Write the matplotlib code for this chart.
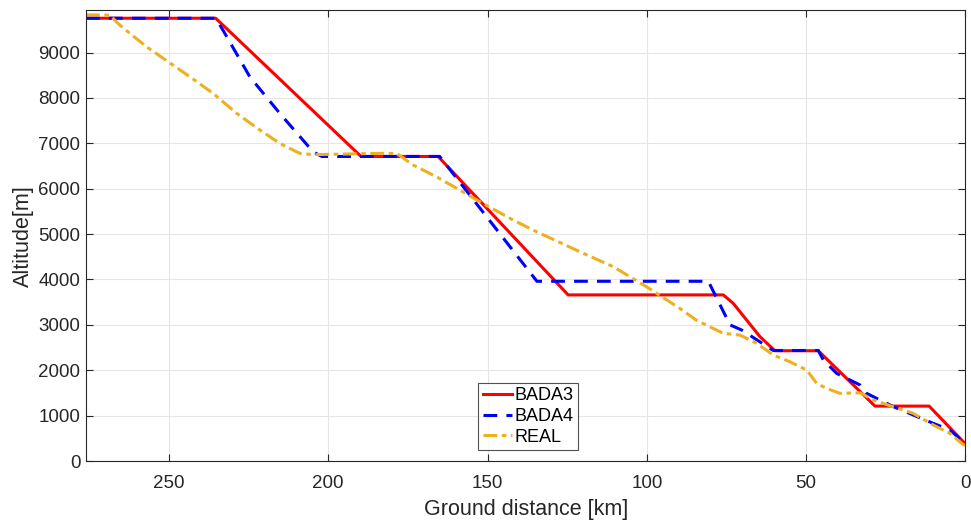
import matplotlib
matplotlib.use("Agg")
import matplotlib.pyplot as plt

plt.rcParams['font.family'] = ['Liberation Sans', 'DejaVu Sans']

# BADA3 profile
bada3_km = [276, 235.3, 189.7, 165.5, 124.7, 76.0, 72.9, 64.5, 59.8, 46.2, 28.4, 11.4, 0]
bada3_alt = [9755, 9755, 6710, 6710, 3660, 3660, 3475, 2740, 2430, 2430, 1210, 1210, 375]

# BADA4 profile
bada4_km = [276, 235.3, 233.0, 224.6, 215.2, 204.7, 202.0, 165.0, 134.5, 80.7, 73.9, 70.2,
            60.3, 46.2, 44.6, 40.4, 33.1, 31.0, 22.7, 16.4, 10.1, 4.9, 0]
bada4_alt = [9755, 9755, 9490, 8465, 7660, 6810, 6710, 6710, 3960, 3960, 3000, 2885,
             2435, 2435, 2225, 1930, 1675, 1490, 1200, 1015, 830, 685, 380]

# REAL trajectory
real_km = [276, 268.6, 265.4, 262.2, 257.0, 250.2, 243.4, 236.1, 228.7, 221.4, 215.2, 208.9,
           204.7, 183.8, 178.5, 173.3, 166.0, 158.7, 152.4, 141.9, 135.7, 121.0, 110.5,
           100.1, 89.6, 84.4, 76.0, 70.8, 65.5, 60.3, 55.1, 49.8, 46.7, 43.6, 39.4, 33.1,
           28.9, 22.7, 16.4, 10.1, 4.9, 0.7, 0]
real_alt = [9830, 9824, 9604, 9420, 9126, 8795, 8465, 8099, 7658, 7291, 6998, 6778,
            6750, 6778, 6778, 6520, 6262, 5969, 5711, 5308, 5088, 4610, 4280,
            3839, 3360, 3100, 2813, 2775, 2593, 2335, 2187, 2004, 1711, 1601, 1491, 1504,
            1344, 1196, 1050, 793, 610, 360, 350]

xticks = [250, 200, 150, 100, 50, 0]
yticks = list(range(0, 10000, 1000))

fig = plt.figure(figsize=(9.71, 5.23), dpi=100)
ax = fig.add_axes([0.0886, 0.1185, 0.9057, 0.8618])

ax.plot(bada3_km, bada3_alt, color='#FF0000', lw=2.2, label='BADA3')
ax.plot(bada4_km, bada4_alt, color='#0000FF', lw=2.2, linestyle=(0, (4.5, 3)), label='BADA4')
ax.plot(real_km, real_alt, color='#EDB120', lw=2.2, linestyle=(0, (4.5, 1.5, 1.5, 1.5)), label='REAL')

ax.set_xlim(276, 0)
ax.set_ylim(0, 9930)
ax.set_xticks(xticks)
ax.set_yticks(yticks)
ax.grid(True, color='#E6E6E6', lw=0.8)
ax.set_axisbelow(True)
ax.tick_params(direction='in', top=True, right=True, labelsize=13.5, colors='#262626',
               length=5, width=0.8)
ax.tick_params(axis='x', pad=10)
ax.tick_params(axis='y', pad=4)
for s in ax.spines.values():
    s.set_color('#262626')
    s.set_linewidth(0.8)

ax.set_xlabel('Ground distance [km]', fontsize=15.5, color='#262626', labelpad=5)
ax.set_ylabel('Altitude[m]', fontsize=15.5, color='#262626', labelpad=3)

leg = ax.legend(loc='lower left', bbox_to_anchor=(0.446, 0.024), fontsize=13,
                frameon=True, fancybox=False, edgecolor='#262626', handlelength=1.6,
                handletextpad=0.15, borderpad=0.25, labelspacing=0.2, borderaxespad=0)
leg.get_frame().set_linewidth(0.8)

fig.savefig('out.png', dpi=100)
